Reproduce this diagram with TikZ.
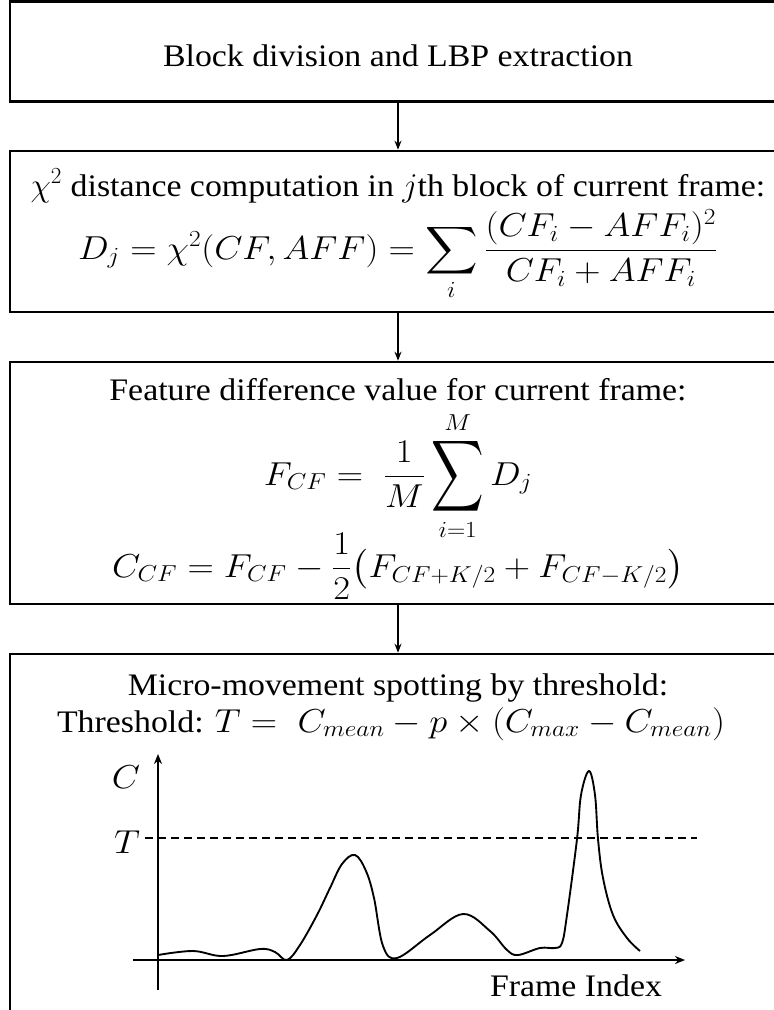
\documentclass[tikz,border=0pt]{standalone}
\usepackage{amsmath}
\usepackage{fontspec}
\setmainfont{Liberation Serif}[FakeStretch=1.08]
\usetikzlibrary{arrows.meta}

\newcommand{\tallsum}{\mathop{\vcenter{\hbox{\scalebox{1}[1.5]{$\displaystyle\sum$}}}}\limits}
\newcommand{\widemath}[1]{\scalebox{1.1}[1]{$#1$}}

\begin{document}
\begin{tikzpicture}[x=0.75pt, y=-0.75pt,
    every node/.style={font=\fontsize{23.5pt}{28pt}\selectfont, inner sep=0pt},
    stepbox/.style={draw, line width=2pt, minimum width=582pt},
    link/.style={-{Stealth[length=6.75pt,width=5.25pt]}, line width=1.2pt},
    axis/.style={-{Stealth[length=7.5pt,width=6pt]}, line width=1.4pt},
    thrline/.style={dash pattern=on 6pt off 3.75pt, line width=1.2pt},
    curve/.style={line width=1.4pt, line join=round}]
    \useasboundingbox (0,0) rectangle (774,1010);
    \clip (0,0) rectangle (774,1010);

    % the four stages, cut off on the right as in the figure
    \node[stepbox, minimum height=75pt, anchor=north] (blockbox) at (398,0) {};
    \node[stepbox, minimum height=120.75pt, anchor=north] (distbox) at (398,149.7) {};
    \node[stepbox, minimum height=181.5pt, anchor=north] (featbox) at (398,360.7) {};
    \node[stepbox, minimum height=300pt, anchor=north] (spotbox) at (398,652.7) {};

    \draw[link] (blockbox) -- (distbox);
    \draw[link] (distbox) -- (featbox);
    \draw[link] (featbox) -- (spotbox);

    \node[anchor=base] (blocktxt) at (398,66) {Block division and LBP extraction};

    \node[anchor=base] (disttxt) at (398,196) {$\chi^2$ distance computation in $j$th block of current frame:};
    \node[anchor=base] (distform) at (398,259)
        {\widemath{D_j=\chi^2(CF,AFF)=\displaystyle\sum_i\frac{(CF_i-AFF_i)^2}{CF_i+AFF_i}}};

    \node[anchor=base] (feattxt) at (398,400) {Feature difference value for current frame:};
    \node[anchor=base] (featform) at (398,485) {\widemath{F_{CF}=\;\dfrac{1}{M}\tallsum_{i=1}^{M}D_j}};
    \node[anchor=base] (contform) at (398,577)
        {\widemath{C_{CF}=F_{CF}-\dfrac{1}{2}\bigl(F_{CF+K/2}+F_{CF-K/2}\bigr)}};

    \node[anchor=base] (spottxt) at (398,695) {Micro-movement spotting by threshold:};
    \node[anchor=base] (thrtxt) at (391,732) {Threshold: \widemath{T=\;C_{mean}-p\times(C_{max}-C_{mean})}};

    % sketch of the C curve
    \coordinate (ybot) at (158,990);
    \coordinate (ytop) at (158,754);
    \coordinate (xleft) at (133,960);
    \coordinate (xright) at (685,960);
    \draw[axis] (ybot) -- (ytop);
    \draw[axis] (xleft) -- (xright);

    \coordinate (thrleft) at (145,838);
    \coordinate (thrright) at (697,838);
    \draw[thrline] (thrleft) -- (thrright);

    \node[anchor=base] (clabel) at (126,788) {\widemath{C}};
    \node[anchor=base] (tlabel) at (127,853) {\widemath{T}};
    \node[anchor=base] (frametxt) at (576,996) {Frame Index};

    \draw[curve] plot[smooth, tension=0.6] coordinates {
        (158,955) (193,951) (223,956) (260,949) (275,952) (287,960) (300,945)
        (317,915) (330,888) (342,864) (355,855) (366,871) (374,898) (383,946)
        (397,958) (430,935) (463,914) (490,931) (507,950) (518,955) (540,948)
        (555,948) (562,943) (567,915) (577,839) (581,795) (589,771) (595,795)
        (598,839) (603,878) (613,915) (627,938) (640,951)};
\end{tikzpicture}
\end{document}
